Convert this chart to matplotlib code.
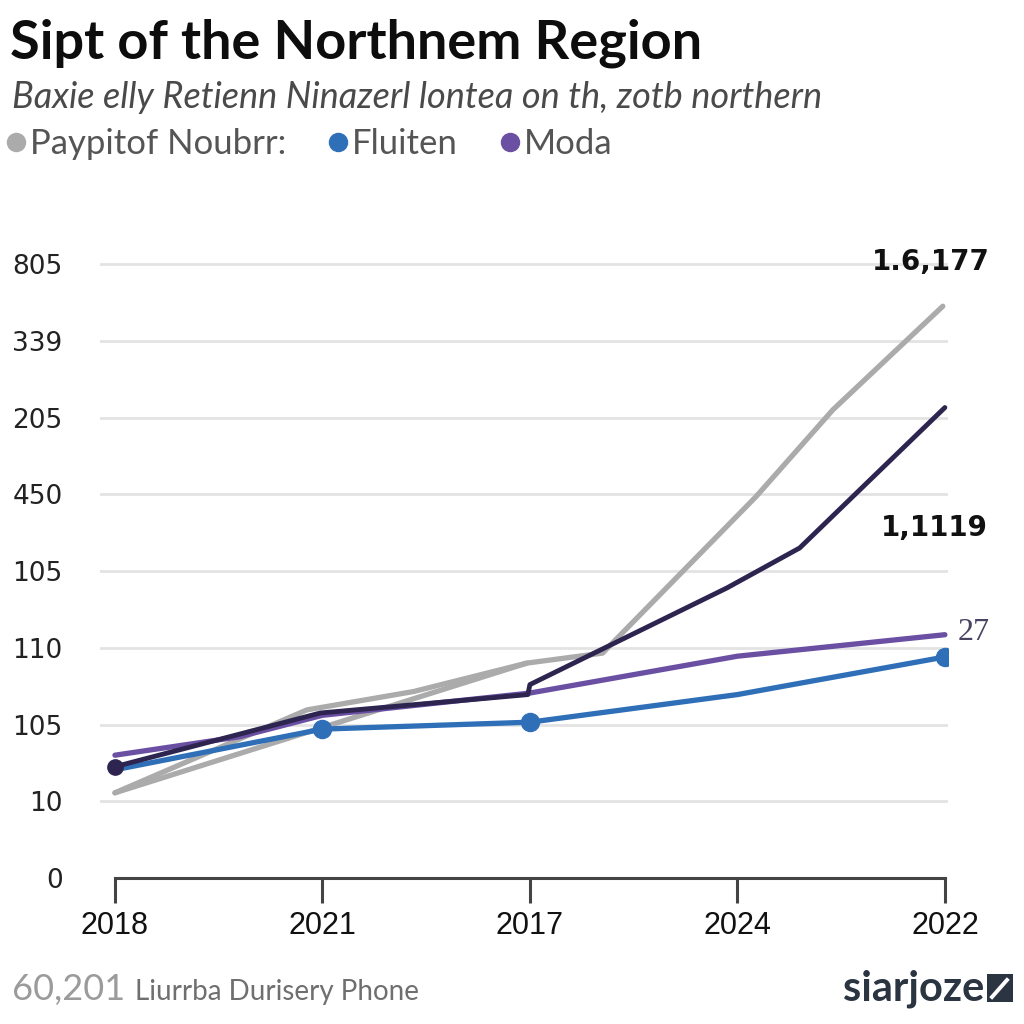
import matplotlib
matplotlib.use("Agg")
import matplotlib.pyplot as plt
from matplotlib.lines import Line2D
from matplotlib.patches import FancyBboxPatch

# tick labels as they appear (equally spaced rows)
x_labels = ["2018", "2021", "2017", "2024", "2022"]
y_labels = ["0", "10", "105", "110", "105", "450", "205", "339", "805"]

# series, in row units (0 = bottom row)
gray_x = [0, 0.925, 1.44, 1.985, 2.35, 3.09, 3.46, 3.99]
gray_y = [1.11, 2.19, 2.43, 2.80, 2.93, 4.97, 6.10, 7.45]
gray2_x = [0, 1.985]
gray2_y = [1.11, 2.80]

navy_x = [0, 0.99, 1.99, 2.0, 2.95, 3.30, 4.0]
navy_y = [1.45, 2.15, 2.39, 2.52, 3.78, 4.30, 6.13]

purple_x = [0, 0.6, 1.0, 2.0, 3.0, 4.0]
purple_y = [1.60, 1.84, 2.12, 2.41, 2.89, 3.17]

blue_x = [0, 1, 2, 3, 4]
blue_y = [1.41, 1.94, 2.03, 2.39, 2.88]
blue_dots = [1, 2, 4]

c_gray = "#ababab"
c_navy = "#2d2550"
c_purple = "#6a4fa2"
c_blue = "#2e6fb8"

fig = plt.figure(figsize=(10.24, 10.24), dpi=100)
fig.patch.set_facecolor("white")
ax = fig.add_axes([100 / 1024, 1 - 878 / 1024, 848 / 1024, 637 / 1024])

ax.set_xlim(-0.072, 4.015)
ax.set_ylim(0, 8.3)

for k in range(1, len(y_labels)):
    ax.axhline(k, color="#e3e3e3", lw=2, zorder=0)

ax.plot(gray2_x, gray2_y, color=c_gray, lw=3.8, solid_capstyle="round", zorder=1)
ax.plot(gray_x, gray_y, color=c_gray, lw=3.8, solid_capstyle="round", zorder=1)
ax.plot(blue_x, blue_y, color=c_blue, lw=3.8, solid_capstyle="round", zorder=2)
ax.plot([blue_x[i] for i in blue_dots], [blue_y[i] for i in blue_dots], "o",
        color=c_blue, ms=13, zorder=2)
ax.plot(purple_x, purple_y, color=c_purple, lw=3.8, solid_capstyle="round", zorder=3)
ax.plot(navy_x, navy_y, color=c_navy, lw=3.5, solid_capstyle="round", zorder=4)
ax.plot(navy_x[0], navy_y[0], "o", color=c_navy, ms=11, zorder=4)

ax.text(3.93, 8.03, "1.6,177", fontsize=20, fontweight="bold", ha="center",
        va="center", color="#111111", clip_on=False)
ax.text(3.95, 4.56, "1,1119", fontsize=20, fontweight="bold", ha="center",
        va="center", color="#111111", clip_on=False)
ax.text(4.06, 3.2, "27", fontsize=23, family="Liberation Serif", ha="left",
        va="center", color="#4a4262", clip_on=False)

for s in ["top", "right", "left"]:
    ax.spines[s].set_visible(False)
ax.spines["bottom"].set_bounds(0, 4)
ax.spines["bottom"].set_color("#444444")
ax.spines["bottom"].set_linewidth(2.2)

ax.set_xticks(range(len(x_labels)))
ax.set_xticklabels(x_labels, fontsize=22, family="Liberation Sans")
ax.tick_params(axis="x", direction="out", length=18, width=2.2, color="#444444",
               pad=6, labelcolor="#111111")
ax.set_yticks(range(len(y_labels)))
ax.set_yticklabels(y_labels, fontsize=19, color="#222222")
ax.tick_params(axis="y", length=0, pad=27)

fig.text(10 / 1024, 1 - 58 / 1024, "Sipt of the Northnem Region", fontsize=39,
         fontweight="bold", family="Lato", color="#0d0d0d", va="baseline")
fig.text(12 / 1024, 1 - 108 / 1024,
         "Baxie elly Retienn Ninazerl lontea on th, zotb northern",
         fontsize=26, style="italic", family="Lato",
         color="#4a4a4a", va="baseline")

handles = [Line2D([], [], ls="none", marker="o", ms=13, color=c) for c in (c_gray, c_blue, c_purple)]
fig.legend(handles, ["Paypitof Noubrr:", "Fluiten", "Moda"], loc="lower left",
           bbox_to_anchor=(0.0, 1 - 167 / 1024), ncol=3, frameon=False,
           labelcolor="#555555", handlelength=0.5, handletextpad=0.15,
           columnspacing=1.25, borderaxespad=0, borderpad=0.2,
           prop={"family": "Lato", "size": 25})

fig.text(12 / 1024, 1 - 1000 / 1024, "60,201", fontsize=26, family="Lato",
         color="#9b9b9b", va="baseline")
fig.text(135 / 1024, 1 - 1000 / 1024, "Liurrba Durisery Phone", fontsize=20,
         family="Lato", color="#6f6f6f", va="baseline")
fig.text(984 / 1024, 1 - 1001 / 1024, "siarjoze", fontsize=30, fontweight="bold",
         family="Lato", color="#2b3542", va="baseline", ha="right")
fig.patches.append(FancyBboxPatch((987 / 1024, 1 - 1002 / 1024), 26 / 1024, 28 / 1024,
                                  boxstyle="square,pad=0", transform=fig.transFigure,
                                  facecolor="#2b3542", edgecolor="none"))
fig.lines.append(Line2D([992 / 1024, 1007 / 1024], [1 - 997 / 1024, 1 - 980 / 1024],
                        transform=fig.transFigure, color="white", lw=2.8))

fig.savefig("out.png", dpi=100, facecolor="white")
